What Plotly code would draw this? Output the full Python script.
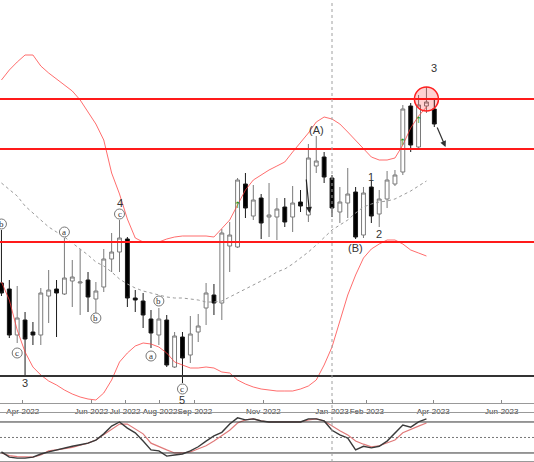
import plotly.graph_objects as go
import pandas as pd

# ---------------- data (weekly bars) ----------------
dates = pd.date_range("2022-03-13", periods=56, freq="7D")

opens = [217, 211, 165, 180, 168, 165, 204, 211, 206, 219, 217, 220, 201, 213, 241, 248,
         261, 202, 199, 181, 165, 180, 133, 163, 145, 168, 192, 205, 197, 254, 253, 316,
         284, 302, 283, 283, 293, 283, 298, 285, 334, 343, 322, 288, 297, 308, 265, 313,
         286, 301, 316, 328, 394, 353, 394, 391]
highs = [270, 220, 214, 188, 178, 212, 230, 220, 262, 240, 251, 228, 218, 251, 267, 280,
         263, 210, 207, 190, 192, 185, 168, 168, 184, 186, 217, 216, 271, 278, 322, 327,
         315, 306, 317, 302, 302, 314, 310, 356, 364, 348, 325, 313, 332, 313, 313, 319,
         310, 329, 330, 395, 397, 405, 413, 402]
lows = [204, 162, 157, 123, 155, 155, 177, 163, 205, 193, 185, 188, 187, 208, 228, 228,
        193, 188, 172, 152, 155, 133, 132, 117, 137, 158, 175, 185, 180, 228, 252, 282,
        280, 261, 263, 260, 273, 268, 288, 278, 327, 317, 283, 277, 282, 261, 262, 277,
        273, 292, 314, 325, 348, 350, 387, 373]
closes = [207, 165, 182, 161, 165, 207, 210, 207, 222, 223, 218, 203, 209, 241, 248, 262,
          202, 200, 185, 167, 181, 135, 164, 142, 166, 174, 207, 197, 267, 265, 320, 292,
          300, 277, 285, 291, 278, 297, 294, 342, 339, 323, 292, 298, 306, 263, 307, 284,
          301, 320, 325, 391, 355, 395, 398, 376]

bb_upper = [420, 430, 438, 445, 445, 434, 427, 421, 415, 409, 400, 388, 376, 360, 327, 306,
            281, 262, 258, 258, 258, 261, 263, 264, 264, 264, 264, 263, 271, 280, 295, 310,
            320, 325, 330, 334, 338, 348, 357, 367, 378, 383, 381, 376, 368, 360, 352, 343,
            340, 340, 342, 355, 372, 384, 393, None]
bb_middle = [317, 310, 304, 294, 287, 280, 273, 268, 263, 257, 251, 245, 238, 234, 228, 221,
             216, 212, 209, 207, 205, 203, 202, 202, 201, 200, 198, 198, 199, 203, 207, 211,
             215, 219, 223, 228, 231, 236, 242, 248, 255, 263, 270, 275, 280, 287, 293, 296,
             298, 299, 301, 305, 309, 314, 319, None]
bb_lower = [218, 200, 170, 148, 133, 125, 119, 115, 110, 106, 103, 101, 100, 107, 120, 138,
            147, 154, 157, 156, 153, 147, 138, 135, 132, 132, 133, 132, 128, 127, 120, 116,
            113, 111, 110, 109, 109, 109, 111, 114, 120, 135, 153, 178, 205, 225, 242, 251,
            256, 260, 260, 256, 250, 247, 244, None]

stoch_k = [22, 12, 10, 10, 12, 18, 22, 26, 30, 33, 36, 39, 45, 57, 72, 80,
           68, 59, 43, 26, 24, 14, 16, 18, 24, 32, 43, 53, 60, 76, 88, 84,
           86, 82, 80, 80, 79, 80, 80, 86, 86, 82, 64, 55, 49, 26, 33, 30,
           33, 43, 59, 74, 70, 80, 86, None]
stoch_d = [20, 15, 13, 12, 12, 16, 24, 26, 28, 31, 35, 39, 45, 55, 66, 76,
           76, 66, 57, 39, 32, 26, 20, 20, 22, 28, 34, 43, 53, 64, 78, 84,
           86, 82, 80, 80, 79, 80, 80, 84, 86, 82, 72, 63, 55, 43, 37, 32,
           34, 39, 45, 59, 66, 72, 78, None]

red_levels = [401, 351, 258]
black_level = 124
stoch_levels = [80, 20]
stoch_mid = 50

tick_dates = ["2022-04-01", "2022-06-01", "2022-07-01", "2022-08-01", "2022-09-01",
              "2022-11-01", "2023-01-01", "2023-02-01", "2023-04-01", "2023-06-01"]
tick_text = ["Apr-2022", "Jun-2022", "Jul-2022", "Aug-2022", "Sep-2022",
             "Nov-2022", "Jan-2023", "Feb-2023", "Apr-2023", "Jun-2023"]

# wave labels: (bar index, price, text)
circled_labels = [(0, 276, "b"), (2, 147, "c"), (8, 268, "a"), (12, 182, "b"),
                  (15, 286, "c"), (19, 144, "a"), (20, 199, "b"), (23, 111, "c")]
plain_labels = [(3, 117, "3"), (15, 297, "4"), (23, 100, "5"), (40, 370, "(A)"),
                (45, 252, "(B)"), (47, 323, "1"), (48, 266, "2"), (55, 432, "3")]
green_arrows = [(30, 295), (51, 358), (53, 380)]
separator_date = "2023-01-01"

# ---------------- figure ----------------
fig = go.Figure()

fig.add_trace(go.Candlestick(
    x=dates, open=opens, high=highs, low=lows, close=closes,
    increasing=dict(line=dict(color="#7a7a7a", width=1), fillcolor="white"),
    decreasing=dict(line=dict(color="#1a1a1a", width=1), fillcolor="black"),
    whiskerwidth=0, showlegend=False, hoverinfo="skip", xaxis="x", yaxis="y"))

bb_color = "rgba(255,60,60,0.75)"
fig.add_trace(go.Scatter(x=dates, y=bb_upper, mode="lines",
                         line=dict(color=bb_color, width=1), showlegend=False, xaxis="x", yaxis="y"))
fig.add_trace(go.Scatter(x=dates, y=bb_lower, mode="lines",
                         line=dict(color=bb_color, width=1), showlegend=False, xaxis="x", yaxis="y"))
fig.add_trace(go.Scatter(x=dates, y=bb_middle, mode="lines",
                         line=dict(color="#9a9a9a", width=1, dash="dot"), showlegend=False,
                         xaxis="x", yaxis="y"))

fig.add_trace(go.Scatter(x=dates, y=stoch_d, mode="lines",
                         line=dict(color="#e07a7a", width=1.2), showlegend=False,
                         xaxis="x2", yaxis="y2"))
fig.add_trace(go.Scatter(x=dates, y=stoch_k, mode="lines",
                         line=dict(color="#3a3a3a", width=1.4), showlegend=False,
                         xaxis="x2", yaxis="y2"))

shapes = []
for lv in red_levels:
    shapes.append(dict(type="line", xref="x domain", yref="y", x0=0, x1=1, y0=lv, y1=lv,
                       line=dict(color="#ff1a1a", width=2), layer="above"))
shapes.append(dict(type="line", xref="x domain", yref="y", x0=0, x1=1,
                   y0=black_level, y1=black_level, line=dict(color="#333333", width=2)))
for lv in stoch_levels:
    shapes.append(dict(type="line", xref="x2 domain", yref="y2", x0=0, x1=1, y0=lv, y1=lv,
                       line=dict(color="#333333", width=1)))
shapes.append(dict(type="line", xref="x2 domain", yref="y2", x0=0, x1=1,
                   y0=stoch_mid, y1=stoch_mid, line=dict(color="#777777", width=1, dash="2px,2px")))
shapes.append(dict(type="line", xref="x", yref="paper", x0=separator_date, x1=separator_date,
                   y0=0, y1=1, line=dict(color="#a0a0a0", width=1, dash="3px,3px")))

annotations = []
for i, p, t in circled_labels:
    shapes.append(dict(type="circle", xref="x", yref="y", xsizemode="pixel", ysizemode="pixel",
                       xanchor=dates[i], yanchor=p, x0=-5, x1=5, y0=-5, y1=5,
                       line=dict(color="#777777", width=1), fillcolor="white", layer="above"))
    annotations.append(dict(x=dates[i], y=p, xref="x", yref="y", text=t, showarrow=False,
                            font=dict(family="Liberation Serif", size=9, color="#333333")))
for i, p, t in plain_labels:
    annotations.append(dict(x=dates[i], y=p, xref="x", yref="y", text=t, showarrow=False,
                            font=dict(family="Liberation Sans", size=11, color="#333333")))
for i, p in green_arrows:
    annotations.append(dict(x=dates[i], y=p, xref="x", yref="y", text="↑", showarrow=False,
                            font=dict(family="DejaVu Sans", size=9, color="#1a9a1a")))

# highlight circle at the last high
shapes.append(dict(type="circle", xref="x", yref="y", xsizemode="pixel", ysizemode="pixel",
                   xanchor=dates[54], yanchor=red_levels[0], x0=-12, x1=12, y0=-12, y1=12,
                   line=dict(color="#ff2020", width=1.5), fillcolor="rgba(255,0,0,0.18)",
                   layer="above"))

# drawn arrows
annotations.append(dict(x=dates[39] + pd.Timedelta(days=1), y=287, ax=dates[39] - pd.Timedelta(days=2), ay=322,
                        xref="x", yref="y", axref="x", ayref="y", text="", showarrow=True,
                        arrowhead=2, arrowsize=1, arrowwidth=1.2, arrowcolor="#222222"))
annotations.append(dict(x=dates[55] + pd.Timedelta(days=10), y=353, ax=dates[55] + pd.Timedelta(days=2), ay=374,
                        xref="x", yref="y", axref="x", ayref="y", text="", showarrow=True,
                        arrowhead=2, arrowsize=1, arrowwidth=1.2, arrowcolor="#333333"))

x_range = ["2022-03-11 17:00", "2023-06-29 16:00"]

fig.update_layout(
    width=534, height=462,
    margin=dict(l=0, r=0, t=0, b=0, autoexpand=False),
    paper_bgcolor="white", plot_bgcolor="white",
    shapes=shapes, annotations=annotations,
    xaxis=dict(domain=[0, 1], range=x_range, type="date", rangeslider=dict(visible=False),
               tickvals=tick_dates, ticktext=tick_text, ticks="inside", ticklen=3, tickangle=0,
               tickcolor="#888888", tickfont=dict(family="Liberation Sans", size=8, color="#444444"),
               showgrid=False, zeroline=False, showline=True, mirror=True, automargin=False,
               linecolor="#999999", linewidth=1, anchor="y"),
    yaxis=dict(domain=[0.1277, 1], range=[97, 500], visible=False, fixedrange=True),
    xaxis2=dict(domain=[0, 1], range=x_range, type="date", showticklabels=False,
                showgrid=False, zeroline=False, showline=True, mirror=True, automargin=False,
                linecolor="#999999", linewidth=1, anchor="y2", ticks=""),
    yaxis2=dict(domain=[0.0022, 0.1061], range=[4.5, 97.4], visible=False),
    showlegend=False,
)

fig.write_html("out.html", config={"displayModeBar": False},
               post_script="document.body.style.margin='0';document.body.style.padding='0';"
                           "document.body.style.overflow='hidden';")
